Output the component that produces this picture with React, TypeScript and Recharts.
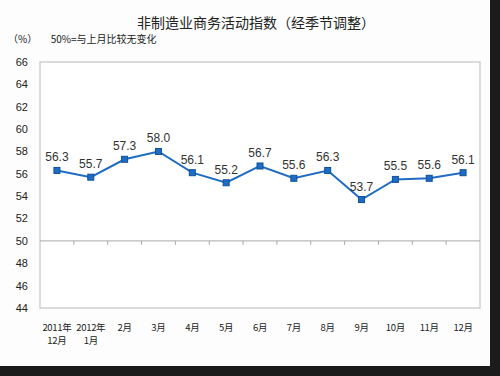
import React from "react";
import {
  LineChart,
  Line,
  XAxis,
  YAxis,
  ReferenceLine,
  ReferenceArea,
  LabelList,
} from "recharts";

const months = [
  "2011年\n12月",
  "2012年\n1月",
  "2月",
  "3月",
  "4月",
  "5月",
  "6月",
  "7月",
  "8月",
  "9月",
  "10月",
  "11月",
  "12月",
];
const index = [56.3, 55.7, 57.3, 58.0, 56.1, 55.2, 56.7, 55.6, 56.3, 53.7, 55.5, 55.6, 56.1];
const yTicks = [44, 46, 48, 50, 52, 54, 56, 58, 60, 62, 64, 66];

const data = months.map((m, i) => ({ month: m, value: index[i] }));

const BLUE = "#1f6cc4";
const CJK = '"Noto Sans CJK SC", "Noto Sans", sans-serif';

function MonthTick(props: any) {
  const { x, y, payload } = props;
  const lines = String(payload.value).split("\n");
  return (
    <g>
      {lines.map((t, i) => (
        <text
          key={i}
          x={x}
          y={y + 21 + i * 13}
          textAnchor="middle"
          fontSize={9.5}
          letterSpacing={-0.3}
          fill="#222"
          fontFamily={CJK}
        >
          {t}
        </text>
      ))}
    </g>
  );
}

// 50 line with small downward ticks between the months
function BaseLine(props: any) {
  const { x1, x2, y1 } = props;
  const step = (x2 - x1) / months.length;
  return (
    <g>
      <line x1={x1} x2={x2} y1={y1} y2={y1} stroke="#aaa" strokeWidth={1} />
      {months.slice(1).map((_, i) => (
        <line
          key={i}
          x1={x1 + step * (i + 1)}
          x2={x1 + step * (i + 1)}
          y1={y1}
          y2={y1 + 4}
          stroke="#aaa"
        />
      ))}
    </g>
  );
}

function SquareDot(props: any) {
  const { cx, cy } = props;
  if (cx == null || cy == null) return null;
  return <rect x={cx - 3} y={cy - 3} width={6} height={6} fill={BLUE} stroke="#0f4f9c" strokeWidth={1} />;
}

export default function App() {
  return (
    <div
      style={{
        position: "absolute",
        left: 0,
        top: 0,
        width: 500,
        height: 376,
        background: "#1b1b1b",
      }}
    >
      <div
        style={{
          position: "absolute",
          left: 0,
          top: 0,
          width: 490,
          height: 366,
          background: "#fcfdfc",
        }}
      >
        <div
          style={{
            position: "absolute",
            top: 12,
            left: 0,
            width: 512,
            textAlign: "center",
            fontFamily: CJK,
            fontSize: 14,
            color: "#222",
          }}
        >
          非制造业商务活动指数（经季节调整）
        </div>
        <div
          style={{
            position: "absolute",
            top: 31,
            left: 8,
            fontFamily: CJK,
            fontSize: 10,
            color: "#222",
            whiteSpace: "pre",
          }}
        >
          {"（%）      50%=与上月比较无变化"}
        </div>
        <LineChart
          width={490}
          height={366}
          data={data}
          margin={{ top: 62, right: 10, left: 0, bottom: 18 }}
          style={{ position: "absolute", left: 0, top: 0 }}
        >
          <ReferenceArea
            y1={44}
            y2={66}
            fill="#fff"
            fillOpacity={1}
            stroke="#cfcfcf"
            strokeWidth={1.5}
            ifOverflow="visible"
          />
          <XAxis
            dataKey="month"
            scale="band"
            axisLine={false}
            tickLine={false}
            tickSize={0}
            height={40}
            interval={0}
            tick={<MonthTick />}
          />
          <YAxis
            width={40}
            domain={[44, 66]}
            ticks={yTicks}
            interval={0}
            axisLine={false}
            tickLine={false}
            tickSize={0}
            tickMargin={12}
            tick={{ fontSize: 11, fill: "#222", fontFamily: "Liberation Sans, Arial, sans-serif" }}
          />
          <ReferenceLine y={50} shape={<BaseLine />} />
          <Line
            type="linear"
            dataKey="value"
            stroke={BLUE}
            strokeWidth={2}
            dot={<SquareDot />}
            activeDot={false}
            isAnimationActive={false}
          >
            <LabelList
              dataKey="value"
              position="top"
              offset={9}
              formatter={(v: any) => Number(v).toFixed(1)}
              style={{ fontSize: 12, fill: "#333", fontFamily: "Liberation Sans, Arial, sans-serif" }}
            />
          </Line>
        </LineChart>
      </div>
    </div>
  );
}
